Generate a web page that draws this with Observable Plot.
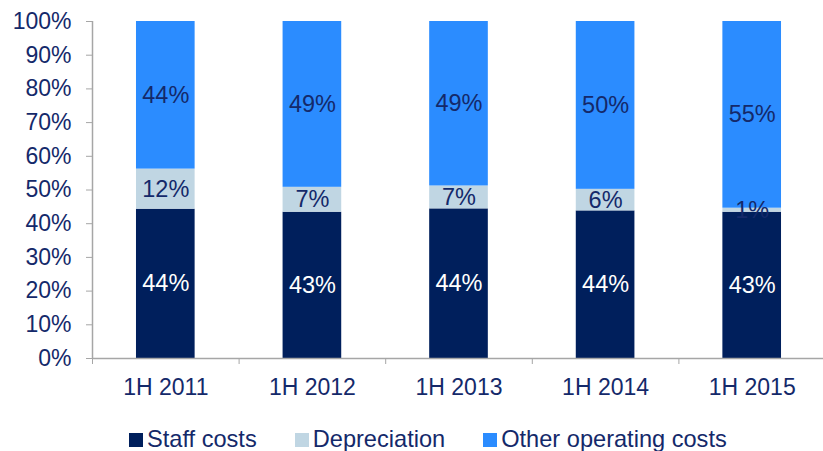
<!DOCTYPE html>
<html><head><meta charset="utf-8">
<script src="https://cdn.jsdelivr.net/npm/d3@7"></script>
<script src="https://cdn.jsdelivr.net/npm/@observablehq/plot@0.6"></script>
<style>
body{margin:0;background:#fff;font-family:"Liberation Sans",Arial,sans-serif;}
#wrap{position:relative;width:823px;height:451px;overflow:hidden;background:#fff}
#legend{position:absolute;left:129px;top:426px;font-size:23.6px;color:#14296a;white-space:nowrap;}
.item{display:inline-block;margin-right:38px}
.sw{display:inline-block;width:14px;height:14px;margin-right:4px;vertical-align:baseline}
</style></head><body>
<div id="wrap"><div id="chart"></div><div id="legend"></div></div>
<script>
const categories = ["1H 2011", "1H 2012", "1H 2013", "1H 2014", "1H 2015"];
const seriesNames = ["Staff costs", "Depreciation", "Other operating costs"];
const staffCosts = [44.3, 43.4, 44.4, 43.8, 43.4];
const depreciation = [11.9, 7.4, 6.8, 6.4, 1.2];
const otherCosts = [43.8, 49.2, 48.8, 49.8, 55.4];
const staffLabels = ["44%", "43%", "44%", "44%", "43%"];
const depLabels = ["12%", "7%", "7%", "6%", "1%"];
const otherLabels = ["44%", "49%", "49%", "50%", "55%"];
const yTicks = [0, 10, 20, 30, 40, 50, 60, 70, 80, 90, 100];
const seriesColors = ["#001f5c", "#c0d6e3", "#2b8cff"];
const textColor = "#14296a";
const axisColor = "#a6a6a6";

const seriesValues = [staffCosts, depreciation, otherCosts];
const seriesLabels = [staffLabels, depLabels, otherLabels];
const rows = [];
categories.forEach((c, i) => {
  let acc = 0;
  seriesNames.forEach((s, k) => {
    const v = seriesValues[k][i];
    rows.push({i, category: c, series: s, k, y1: acc, y2: acc + v, label: seriesLabels[k][i]});
    acc += v;
  });
});
const boundaries = d3.range(categories.length + 1);
const centers = categories.map((c, i) => i + 0.5);

const plot = Plot.plot({
  width: 823,
  height: 410,
  marginTop: 21,
  marginBottom: 52,
  marginLeft: 92,
  marginRight: 0,
  style: {fontSize: "23px", fontFamily: "'Liberation Sans', Arial, sans-serif", background: "transparent", overflow: "visible"},
  x: {domain: [0, categories.length], range: [92, 825]},
  y: {domain: [0, 100]},
  color: {domain: seriesNames, range: seriesColors},
  marks: [
    Plot.rect(rows, {x1: d => d.i + 0.3, x2: d => d.i + 0.7, y1: "y1", y2: "y2", fill: "series"}),
    Plot.text(rows.filter(d => d.k === 0), {x: d => d.i + 0.5, y: d => (d.y1 + d.y2) / 2, text: "label", fill: "white", fontSize: 23.5}),
    Plot.text(rows.filter(d => d.k !== 0), {x: d => d.i + 0.5, y: d => (d.y1 + d.y2) / 2, text: "label", fill: textColor, fontSize: 23.5}),
    Plot.ruleY([0], {stroke: axisColor, strokeWidth: 1.5}),
    Plot.ruleX([0], {stroke: axisColor, strokeWidth: 1.5}),
    Plot.axisY({ticks: yTicks, tickSize: 6, tickPadding: 15, tickFormat: d => d + "%", stroke: axisColor, fill: textColor, label: null}),
    Plot.axisX({ticks: boundaries, tickSize: 6, tickFormat: () => "", stroke: axisColor, label: null}),
    Plot.axisX({ticks: centers, tickSize: 0, tickPadding: 20, tickFormat: d => categories[Math.round(d - 0.5)], fill: textColor, label: null})
  ]
});
document.getElementById("chart").appendChild(plot);

const legend = d3.select("#legend");
seriesNames.forEach((s, k) => {
  const it = legend.append("span").attr("class", "item");
  it.append("span").attr("class", "sw").style("background", seriesColors[k]);
  it.append("span").text(s);
});
</script>
</body></html>
